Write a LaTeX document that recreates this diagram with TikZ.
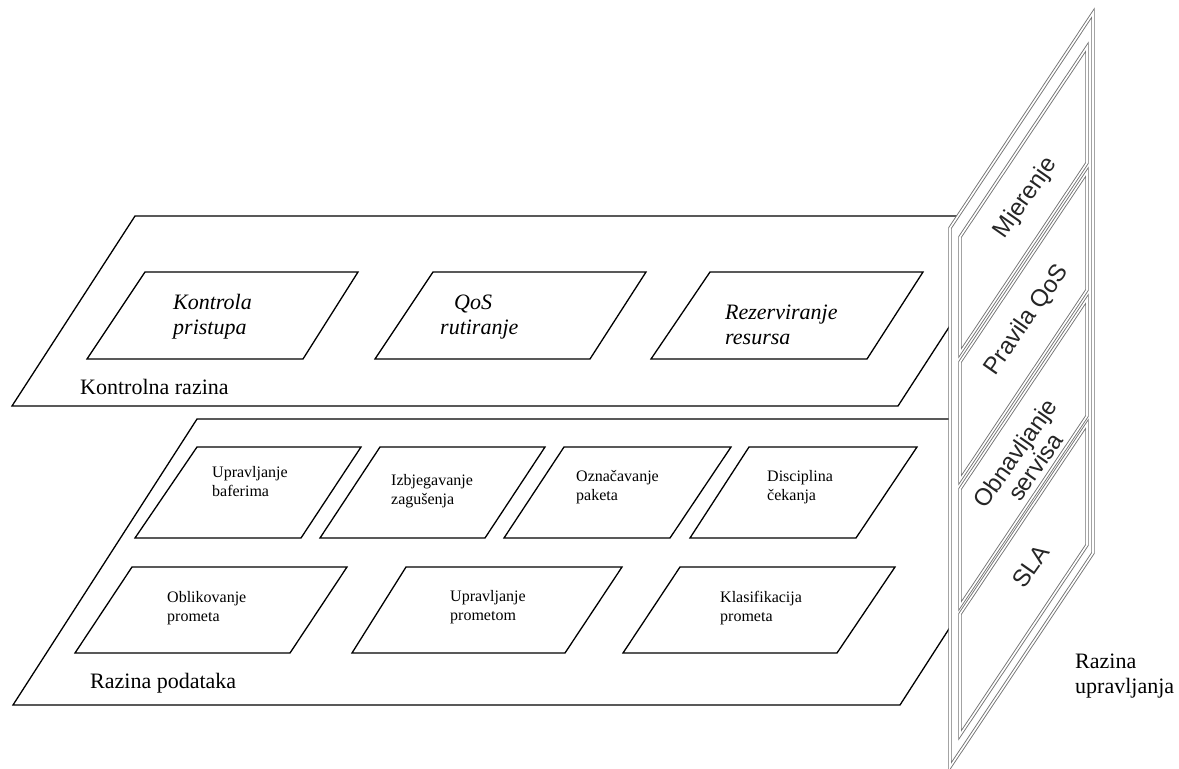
\documentclass[tikz,border=0pt]{standalone}
\usepackage{fontspec}
\setmainfont{Liberation Serif}
\newfontfamily\panelfont{Liberation Sans}
\begin{document}
\begin{tikzpicture}[x=1pt,y=-1pt,
  plane/.style={draw=black,line width=1.3pt,line join=miter},
  ibox/.style={draw=black,line width=1.3pt,line join=miter},
  gpanel/.style={draw=black!55,line width=0.9pt,double=white,double distance=1.6pt,line join=miter},
  itxt/.style={inner sep=0pt,anchor=west,align=left,font=\itshape\fontsize{22}{25}\selectfont},
  dtxt/.style={inner sep=0pt,anchor=west,align=left,font=\fontsize{16}{19}\selectfont},
  lbl/.style={inner sep=0pt,anchor=west,align=left,font=\fontsize{22}{25}\selectfont},
  ptxt/.style={inner sep=0pt,rotate=55,align=center,text=black!85,font=\panelfont\fontsize{24}{24}\selectfont}]
\useasboundingbox (0,0) rectangle (1179,769);
% control plane
\draw[plane] (135,216) -- (1021,216) -- (898,406) -- (12,406) -- cycle;
\draw[ibox] (145,272) -- (358,272) -- (303,359) -- (87,359) -- cycle;
\draw[ibox] (433,272) -- (646,272) -- (590,359) -- (375,359) -- cycle;
\draw[ibox] (710,272) -- (923,272) -- (867,359) -- (651,359) -- cycle;
\node[itxt] (kp) at (173,317) {Kontrola\\pristupa};
\node[itxt] (qr) at (440,317) {\hspace{14pt}QoS\\rutiranje};
\node[itxt] (rr) at (725,325) {Rezerviranje\\resursa};
\node[lbl] (kr) at (80,387) {Kontrolna razina};
% data plane
\draw[plane] (197,419) -- (1084,419) -- (900,705) -- (13,705) -- cycle;
\draw[ibox] (197,447) -- (361,447) -- (301,538) -- (135,538) -- cycle;
\draw[ibox] (380,447) -- (545,447) -- (485,538) -- (320,538) -- cycle;
\draw[ibox] (564,447) -- (731,447) -- (670,538) -- (504,538) -- cycle;
\draw[ibox] (749,447) -- (917,447) -- (856,538) -- (690,538) -- cycle;
\draw[ibox] (132,567) -- (347,567) -- (290,653) -- (75,653) -- cycle;
\draw[ibox] (406,567) -- (622,567) -- (565,653) -- (352,653) -- cycle;
\draw[ibox] (680,567) -- (895,567) -- (837,653) -- (623,653) -- cycle;
\node[dtxt] (ub) at (212,482) {Upravljanje\\baferima};
\node[dtxt] (iz) at (391,491) {Izbjegavanje\\zagušenja};
\node[dtxt] (op) at (576,487) {Označavanje\\paketa};
\node[dtxt] (dc) at (767,487) {Disciplina\\čekanja};
\node[dtxt] (ob) at (167,608) {Oblikovanje\\prometa};
\node[dtxt] (up) at (450,607) {Upravljanje\\prometom};
\node[dtxt] (kl) at (720,608) {Klasifikacija\\prometa};
\node[lbl] (rp) at (90,683) {Razina podataka};
% management plane
\draw[gpanel,fill=white] (950,228) -- (1093,13) -- (1093,553) -- (950,767) -- cycle;
\draw[gpanel] (960,237) -- (1087,47) -- (1087,163) -- (960,353) -- cycle;
\draw[gpanel] (960,362) -- (1087,172) -- (1087,290) -- (960,480) -- cycle;
\draw[gpanel] (960,489) -- (1087,299) -- (1087,416) -- (960,606) -- cycle;
\draw[gpanel] (960,614) -- (1087,424) -- (1087,545) -- (960,735) -- cycle;
\node[ptxt] (mj) at (1026,198) {Mjerenje};
\node[ptxt] (pq) at (1027,320) {Pravila QoS};
\node[ptxt] (os) at (1025,460) {Obnavljanje\\servisa};
\node[ptxt] (sla) at (1031,566) {SLA};
\node[lbl] (ru) at (1075,676) {Razina\\upravljanja};
\end{tikzpicture}
\end{document}
